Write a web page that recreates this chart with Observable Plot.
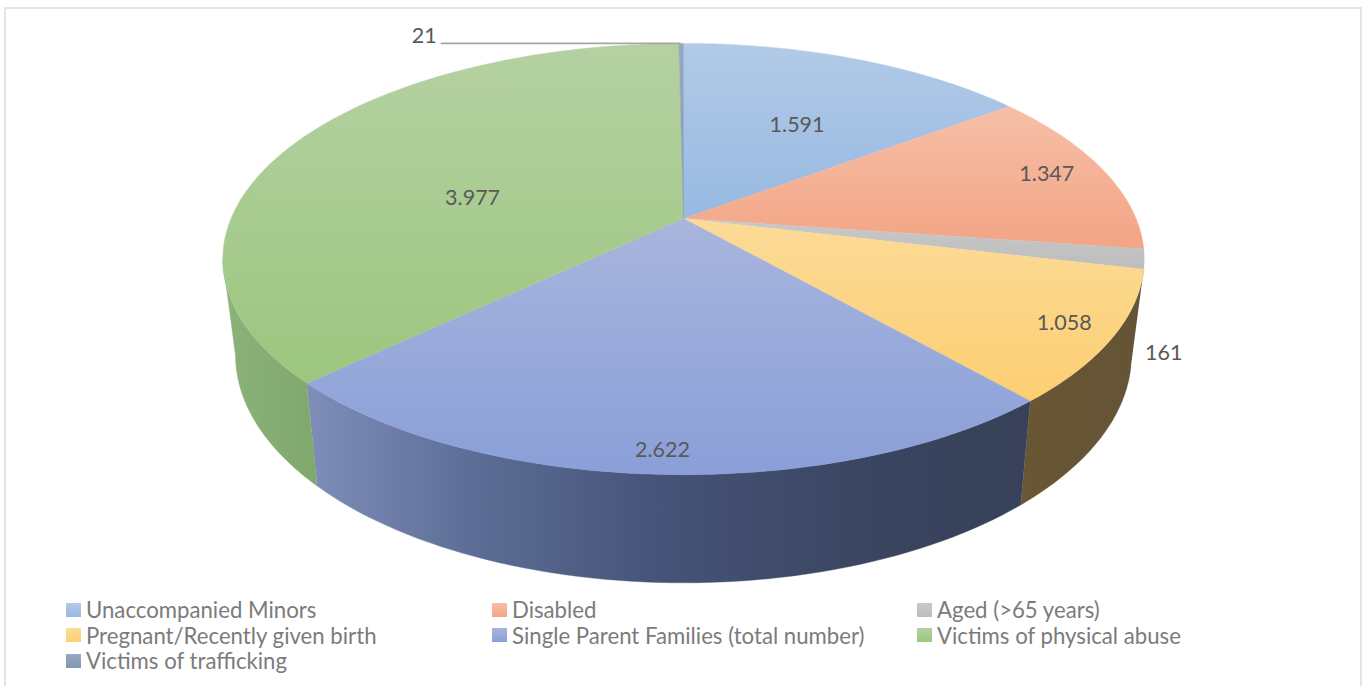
<!DOCTYPE html>
<html>
<head>
<meta charset="utf-8">
<script src="https://cdn.jsdelivr.net/npm/d3@7"></script>
<script src="https://cdn.jsdelivr.net/npm/@observablehq/plot@0.6"></script>
<style>
  html,body{margin:0;padding:0;background:#fff;overflow:hidden}
  #frame{position:relative;width:1365px;height:686px;overflow:hidden}
  #frame::before{content:"";position:absolute;left:4px;top:7px;right:3px;bottom:-10px;border:2px solid #e4e4e4;pointer-events:none}
  #chart svg{display:block;position:relative}
  #legend{position:absolute;left:66px;top:597px;display:grid;grid-template-columns:426px 425px 400px;grid-auto-rows:25.5px;
    font:22.2px Lato,sans-serif;color:#7b7b7b;align-items:center}
  #legend div{display:flex;align-items:center;white-space:nowrap}
  #legend i{display:inline-block;width:15px;height:14px;margin-right:5px;flex:none}
</style>
</head>
<body>
<div id="frame"><div id="chart"></div><div id="legend"></div></div>
<script>
const categories = ["Unaccompanied Minors","Disabled","Aged (>65 years)","Pregnant/Recently given birth","Single Parent Families (total number)","Victims of physical abuse","Victims of trafficking"];
const values = [1591,1347,161,1058,2622,3977,21];
const valueLabels = ["1.591","1.347","161","1.058","2.622","3.977","21"];

const topLight = ["#b1cae7","#f6bfa8","#c8c8c8","#fcdb98","#a8b5dd","#b5d1a2","#98a8c0"];
const topBase  = ["#98b9e2","#f3a484","#bdbdbd","#fccf72","#8a9fd8","#9cc67f","#8496b4"];

// label placement inside the slices: [turn from top, in degrees; fraction of the radius]
const insideLabels = [[29.3,0.56],[75.2,0.865],null,[120.8,0.895],[182.4,0.92],[281.8,0.485],null];

// projection of the disc (perspective view of a circle)
const cx = 683, cyTop = 218, ax = 452.5, by = 208, k = 0.188;
const cyBot = 311.4, axBot = 440, byBot = 220;
const topAt = (deg, r = 1) => {
  const t = deg * Math.PI / 180, X = r * Math.sin(t), Z = r * Math.cos(t), d = 1 + k * Z;
  return {x: cx + ax * X / d, y: cyTop - by * Z / d};
};
const botAt = deg => {
  const t = deg * Math.PI / 180, X = Math.sin(t), Z = Math.cos(t), d = 1 + k * Z;
  return {x: cx + axBot * X / d, y: cyBot - byBot * Z / d};
};

const total = d3.sum(values);
let acc = 0;
const slices = values.map((v, i) => {
  const a0 = acc / total * 360; acc += v;
  return {i, a0, a1: acc / total * 360};
});
const arc = (f, a0, a1) => d3.range(0, 61).map(s => f(a0 + (a1 - a0) * s / 60));
const wedge = s => [topAt(0, 0), ...arc(topAt, s.a0, s.a1), topAt(0, 0)];
const wall = (a0, a1) => [...arc(topAt, a0, a1), ...arc(botAt, a0, a1).reverse()];

const gradient = (id, x2, y2, stops) => {
  const g = d3.create("svg:linearGradient").attr("id", id).attr("x1", 0).attr("y1", 0).attr("x2", x2).attr("y2", y2);
  stops.forEach(([o, c]) => g.append("stop").attr("offset", o).attr("stop-color", c));
  return g.node();
};
const defs = () => {
  const d = d3.create("svg:defs");
  slices.forEach(s => d.append(() => gradient("top" + s.i, 0, 1, [[0, topLight[s.i]], [1, topBase[s.i]]])));
  d.append(() => gradient("wallSingle", 1, 0, [[0,"#7f8eb9"],[0.25,"#5a6b93"],[0.5,"#465277"],[0.8,"#39445f"],[1,"#384159"]]));
  d.append(() => gradient("wallPreg", 1, 0, [[0,"#685634"],[1,"#645436"]]));
  d.append(() => gradient("wallGreen", 1, 0, [[0,"#8cb279"],[1,"#7fa86d"]]));
  return d.node();
};
const poly = (pts, fill) => Plot.line(pts, {x:"x", y:"y", fill, stroke:fill, strokeWidth:0.4, curve:"linear"});

const preg = slices[3], single = slices[4], green = slices[5], traffic = slices[6];
const inside = slices.filter(s => insideLabels[s.i]).map(s => ({
  ...topAt(insideLabels[s.i][0], insideLabels[s.i][1]), text: valueLabels[s.i]
}));
const tip = topAt(0);
const trafficMid = topAt((traffic.a0 + traffic.a1) / 2);
const labelFont = {fontFamily:"Lato,sans-serif", fontSize:21.5, fill:"#595959"};

const chart = Plot.plot({
  width: 1365, height: 595,
  margin: 0,
  x: {domain:[0,1365], range:[0,1365], axis:null},
  y: {domain:[0,595], range:[0,595], axis:null},
  marks: [
    defs,
    poly(wall(preg.a0, preg.a1), "url(#wallPreg)"),
    poly(wall(single.a0, single.a1), "url(#wallSingle)"),
    poly(wall(single.a1, 259), "url(#wallGreen)"),
    ...slices.map(s => poly(wedge(s), `url(#top${s.i})`)),
    Plot.ruleY([tip.y], {x1: trafficMid.x - 240, x2: trafficMid.x, stroke:"#a6a6a6", strokeWidth:1.6}),
    Plot.text(inside, {x:"x", y:"y", text:"text", ...labelFont}),
    Plot.text([valueLabels[2]], {x:()=>topAt(slices[2].a1).x + 20, y:()=>topAt(slices[2].a1).y + 84, text:d=>d, ...labelFont}),
    Plot.text([valueLabels[6]], {x:()=>trafficMid.x - 257, y:()=>tip.y - 7, text:d=>d, ...labelFont})
  ]
});
chart.style.background = "transparent";
document.getElementById("chart").append(chart);

const legend = d3.select("#legend");
categories.forEach((c, i) => {
  const row = legend.append("div");
  row.append("i").style("background", `linear-gradient(${topLight[i]},${topBase[i]})`);
  row.append("span").text(c);
});
</script>
</body>
</html>
